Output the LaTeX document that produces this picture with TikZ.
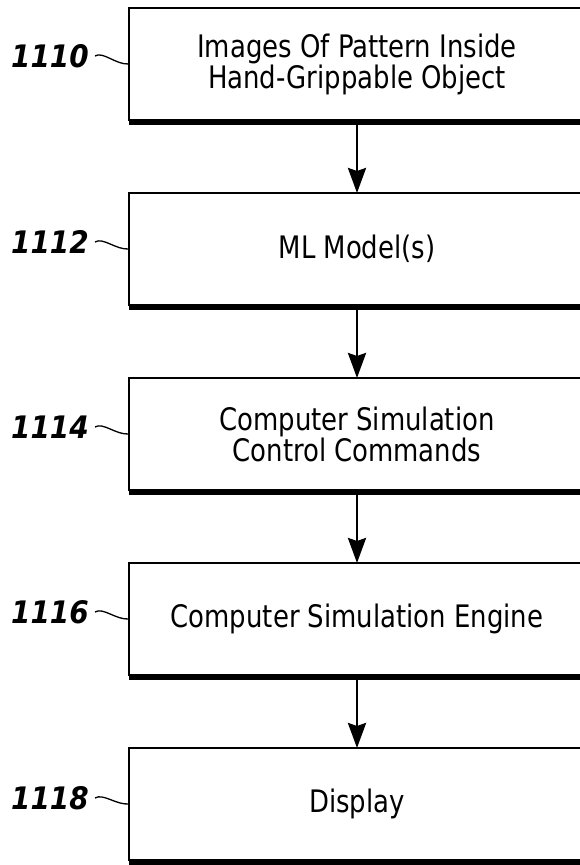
\documentclass[tikz,border=0pt]{standalone}
\usepackage{fontspec}
\setmainfont{DejaVu Sans Condensed}
\newfontfamily\boxfont{DejaVu Sans Condensed}[FakeStretch=0.93]
\newfontfamily\lblfont{DejaVu Sans Condensed Bold Oblique}
\usetikzlibrary{arrows.meta}
\begin{document}
\begin{tikzpicture}[x=1pt,y=1pt,
  blk/.style={draw,line width=2pt,minimum width=456pt,minimum height=112pt,outer sep=0pt,inner sep=0pt,align=center,font=\boxfont\fontsize{31}{30}\selectfont},
  lbl/.style={anchor=east,inner sep=0pt,font=\lblfont\fontsize{31}{31}\selectfont},
  flow/.style={line width=2.7pt,-{Stealth[length=25pt,width=18pt,inset=3pt]}},
  bar/.style={line width=5pt},
  tl/.style={line width=1.3pt}]
\useasboundingbox (0,0) rectangle (580,865);
\begin{scope}
\clip (0,0) rectangle (580,865);
\node[blk] (b1) at (357,801) {Images Of Pattern Inside\\Hand-Grippable Object};
\node[blk] (b2) at (357,616) {ML Model(s)};
\node[blk] (b3) at (357,431) {Computer Simulation\\Control Commands};
\node[blk] (b4) at (357,246) {Computer Simulation Engine};
\node[blk] (b5) at (357,61) {Display};
\foreach \b in {b1,b2,b3,b4,b5}{
  \draw[bar] ([yshift=-2.5pt]\b.south west) -- ([yshift=-2.5pt]\b.south east);
}
\node[lbl] (l1) at (89,809) {1110};
\node[lbl] (l2) at (89,623) {1112};
\node[lbl] (l3) at (89,438) {1114};
\node[lbl] (l4) at (89,253) {1116};
\node[lbl] (l5) at (89,67) {1118};
\foreach \l/\b in {l1/b1,l2/b2,l3/b3,l4/b4,l5/b5}{
  \draw[tl] ([xshift=6pt]\l.east) .. controls +(8,5) and +(-13,-1) .. (\b.west);
}
\draw[flow] ([yshift=-5pt]b1.south) -- (b2.north);
\draw[flow] ([yshift=-5pt]b2.south) -- (b3.north);
\draw[flow] ([yshift=-5pt]b3.south) -- (b4.north);
\draw[flow] ([yshift=-5pt]b4.south) -- (b5.north);
\end{scope}
\end{tikzpicture}
\end{document}
